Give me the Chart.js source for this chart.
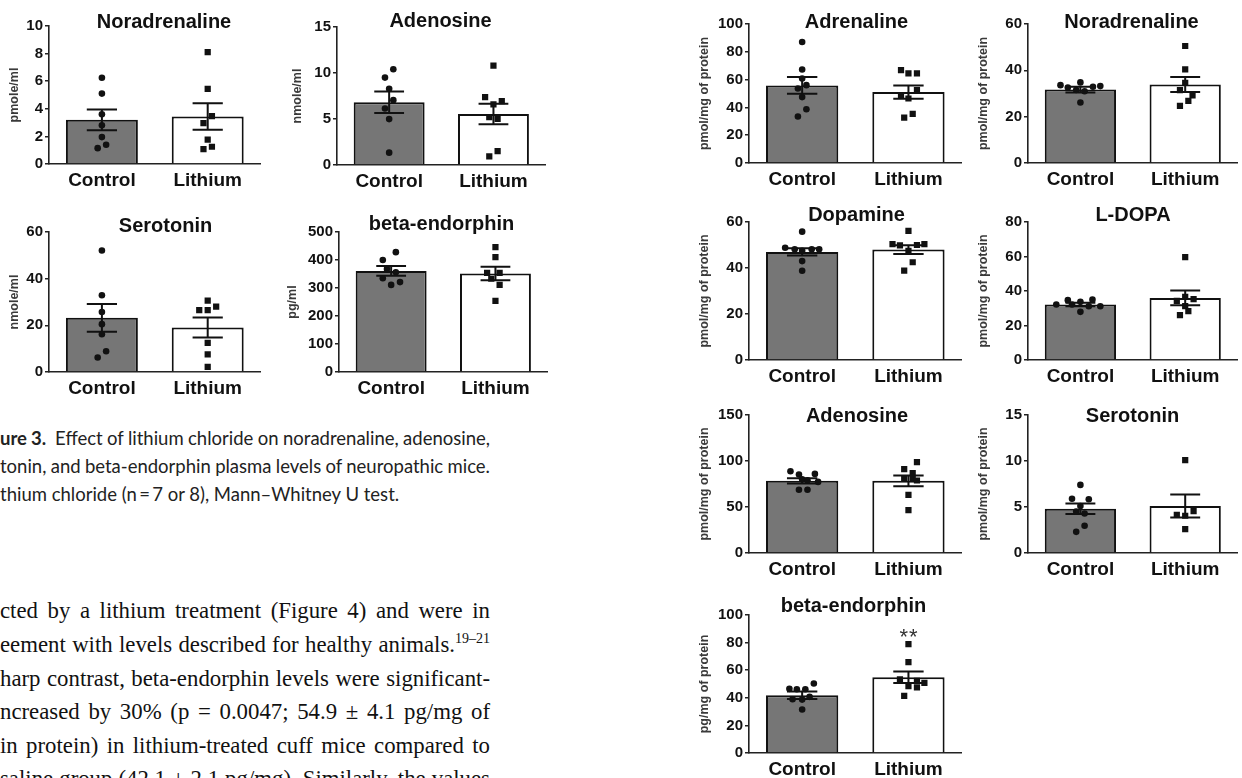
<!DOCTYPE html>
<html>
<head>
<meta charset="utf-8">
<script src="https://cdn.jsdelivr.net/npm/chart.js@4.4.1/dist/chart.umd.min.js"></script>
<style>
  body { margin: 0; width: 1242px; height: 778px; overflow: hidden; background: #fff; position: relative; }
  canvas { position: absolute; }
  .ttl { position: absolute; font: bold 20px "Liberation Sans", Arial, sans-serif; line-height: 20px; color: #111; white-space: nowrap; transform: translateX(-50%); }
  .cap { position: absolute; left: 0; font: 18.5px Lato, sans-serif; line-height: 22px; color: #222; white-space: nowrap; }
  .txt { position: absolute; left: 0; font: 22.8px "Liberation Serif", serif; line-height: 26px; color: #111; white-space: nowrap; }
  .txt sup { font-size: 14px; line-height: 0; }
</style>
</head>
<body>

<div class="cap fit" style="top:427px"><b>ure 3.</b>&nbsp; Effect of lithium chloride on noradrenaline, adenosine,</div>
<div class="cap fit" style="top:455px">tonin, and beta-endorphin plasma levels of neuropathic mice.</div>
<div class="cap" style="top:483px">thium chloride (n&thinsp;=&thinsp;7 or 8), Mann–Whitney U test.</div>

<div class="txt fit" style="top:598px">cted by a lithium treatment (Figure 4) and were in</div>
<div class="txt fit" style="top:632px">eement with levels described for healthy animals.<sup>19–21</sup></div>
<div class="txt fit" style="top:666px">harp contrast, beta-endorphin levels were significant-</div>
<div class="txt fit" style="top:699px">ncreased by 30% (p = 0.0047; 54.9 ± 4.1 pg/mg of</div>
<div class="txt fit" style="top:733px">in protein) in lithium-treated cuff mice compared to</div>
<div class="txt fit" style="top:766px">saline group (42.1 ± 2.1 pg/mg). Similarly, the values</div>

<script>
// categories
const groups = ['Control', 'Lithium'];

// points are [value, horizontal jitter in category units]

// Figure 3, plasma
const plasmaNoradMean = [3.2, 3.45];
const plasmaNoradSem = [0.75, 0.96];
const plasmaNoradCtrl = [[6.25, 0], [5.1, 0], [3.6, 0], [2.8, 0], [1.95, 0], [1.4, 0.04], [1.15, -0.04]];
const plasmaNoradLi = [[8.1, 0], [5.45, 0], [3.47, 0.04], [2.96, -0.04], [1.76, 0], [1.25, 0.04], [1.08, -0.04]];

const plasmaAdoMean = [6.83, 5.55];
const plasmaAdoSem = [1.17, 1.12];
const plasmaAdoCtrl = [[10.4, 0.04], [9.5, -0.04], [8.28, 0], [7.05, 0.04], [6.14, -0.04], [4.99, 0], [1.34, 0]];
const plasmaAdoLi = [[10.8, 0], [7.37, -0.08], [6.94, 0.08], [6.58, 0], [5.2, -0.04], [5.02, 0.04], [1.52, 0.04], [0.94, -0.04]];

const plasmaSeroMean = [23.2, 19.1];
const plasmaSeroSem = [5.95, 4.3];
const plasmaSeroCtrl = [[52.1, 0], [32.9, 0], [25.7, 0], [20.5, 0], [16.2, 0], [8.9, 0.04], [6.2, -0.04]];
const plasmaSeroLi = [[30.6, 0], [26.5, -0.08], [26.5, 0], [28.0, 0.08], [12.5, 0], [7.6, 0], [2.2, 0]];

const plasmaBetaMean = [361, 352];
const plasmaBetaSem = [17.5, 24];
const plasmaBetaCtrl = [[428, 0.045], [400, -0.08], [368, -0.04], [356, 0.045], [335, -0.08], [321, 0.085], [311, 0]];
const plasmaBetaLi = [[446, 0], [410, 0], [354, -0.08], [354, 0.04], [333, -0.04], [311, 0.04], [254, 0]];

// Figure 4, tissue
const tissueAdrMean = [55.8, 51];
const tissueAdrSem = [6, 4.7];
const tissueAdrCtrl = [[87, 0], [67.3, 0], [60.8, 0], [56, 0.04], [53.6, -0.04], [47.4, 0], [38.7, 0.04], [33.4, -0.04]];
const tissueAdrLi = [[66.8, -0.07], [64.4, 0], [64.4, 0.08], [52.4, 0.08], [48.8, -0.07], [46.4, 0], [35.3, 0.04], [32.7, -0.04]];

const tissueNoradMean = [31.7, 33.9];
const tissueNoradSem = [1.25, 3.25];
const tissueNoradCtrl = [[33.6, -0.19], [32.6, -0.12], [34.8, 0], [32.9, 0.12], [33.2, 0.19], [31.5, -0.04], [31.0, 0.04], [26.1, 0]];
const tissueNoradLi = [[50.5, 0], [40.4, 0], [34.6, 0], [31.5, -0.05], [29.2, 0.07], [26.8, 0.03], [24.7, -0.05]];

const tissueDopaMean = [47.0, 48.0];
const tissueDopaSem = [1.6, 1.9];
const tissueDopaCtrl = [[55.8, 0], [48.8, -0.16], [48.1, -0.07], [47.5, 0], [48.1, 0.09], [48.1, 0.16], [43.0, 0], [38.8, 0]];
const tissueDopaLi = [[56.1, 0], [50.4, -0.15], [49.8, -0.08], [50.0, 0.08], [50.4, 0.15], [47.4, 0], [42.5, 0.04], [38.9, -0.04]];

const tissueLdopaMean = [32.2, 36.0];
const tissueLdopaSem = [1.0, 4.3];
const tissueLdopaCtrl = [[34.7, -0.12], [35.0, 0.115], [33.7, 0], [32.2, -0.23], [32.2, -0.08], [31.2, 0.19], [31.2, 0.08], [27.9, 0]];
const tissueLdopaLi = [[59.7, 0], [36.6, 0], [35.3, 0.08], [34.3, -0.08], [31.2, 0], [28.3, 0.03], [26.0, -0.05]];

const tissueAdoMean = [78.4, 78.4];
const tissueAdoSem = [2.9, 5.8];
const tissueAdoCtrl = [[88.9, -0.11], [85.3, -0.03], [86.0, 0.12], [80.2, 0], [79.0, 0.05], [77.3, 0.15], [68.7, -0.03], [68.7, 0.05]];
const tissueAdoLi = [[98.7, 0.08], [91.1, -0.04], [86.7, 0.04], [81.3, -0.04], [81.3, 0.04], [78.8, 0.08], [63.2, 0], [46.6, 0]];

const tissueSeroMean = [4.81, 5.1];
const tissueSeroSem = [0.58, 1.25];
const tissueSeroCtrl = [[7.4, 0], [5.9, -0.08], [5.85, 0.08], [5.1, 0], [4.5, -0.04], [4.3, 0.04], [2.96, 0.04], [2.3, -0.04]];
const tissueSeroLi = [[10.1, 0], [4.55, 0.08], [4.15, -0.08], [4.05, 0], [2.6, 0]];

const tissueBetaMean = [41.9, 54.9];
const tissueBetaSem = [2.7, 4.1];
const tissueBetaCtrl = [[50.4, 0.11], [46.5, -0.12], [46.2, -0.05], [46.2, 0.03], [40.7, 0.07], [39.0, -0.09], [38.7, 0], [31.5, 0]];
const tissueBetaLi = [[78.9, 0], [65.9, 0], [53.3, -0.08], [52.3, 0.08], [50.8, 0.15], [48.4, 0], [47.5, 0.08], [41.4, -0.04]];

const panels = [
  { id: 'pNor', title: 'Noradrenaline', unit: 'pmole/ml', max: 10, step: 2, mean: plasmaNoradMean, sem: plasmaNoradSem, ctrl: plasmaNoradCtrl, li: plasmaNoradLi },
  { id: 'pAdo', title: 'Adenosine', unit: 'nmole/ml', max: 15, step: 5, mean: plasmaAdoMean, sem: plasmaAdoSem, ctrl: plasmaAdoCtrl, li: plasmaAdoLi },
  { id: 'pSer', title: 'Serotonin', unit: 'nmole/ml', max: 60, step: 20, mean: plasmaSeroMean, sem: plasmaSeroSem, ctrl: plasmaSeroCtrl, li: plasmaSeroLi },
  { id: 'pBeta', title: 'beta-endorphin', unit: 'pg/ml', max: 500, step: 100, mean: plasmaBetaMean, sem: plasmaBetaSem, ctrl: plasmaBetaCtrl, li: plasmaBetaLi },
  { id: 'tAdr', title: 'Adrenaline', unit: 'pmol/mg of protein', max: 100, step: 20, mean: tissueAdrMean, sem: tissueAdrSem, ctrl: tissueAdrCtrl, li: tissueAdrLi },
  { id: 'tNor', title: 'Noradrenaline', unit: 'pmol/mg of protein', max: 60, step: 20, mean: tissueNoradMean, sem: tissueNoradSem, ctrl: tissueNoradCtrl, li: tissueNoradLi },
  { id: 'tDopa', title: 'Dopamine', unit: 'pmol/mg of protein', max: 60, step: 20, mean: tissueDopaMean, sem: tissueDopaSem, ctrl: tissueDopaCtrl, li: tissueDopaLi },
  { id: 'tLdopa', title: 'L-DOPA', unit: 'pmol/mg of protein', max: 80, step: 20, mean: tissueLdopaMean, sem: tissueLdopaSem, ctrl: tissueLdopaCtrl, li: tissueLdopaLi },
  { id: 'tAdo', title: 'Adenosine', unit: 'pmol/mg of protein', max: 150, step: 50, mean: tissueAdoMean, sem: tissueAdoSem, ctrl: tissueAdoCtrl, li: tissueAdoLi },
  { id: 'tSer', title: 'Serotonin', unit: 'pmol/mg of protein', max: 15, step: 5, mean: tissueSeroMean, sem: tissueSeroSem, ctrl: tissueSeroCtrl, li: tissueSeroLi },
  { id: 'tBeta', title: 'beta-endorphin', unit: 'pg/mg of protein', max: 100, step: 20, mean: tissueBetaMean, sem: tissueBetaSem, ctrl: tissueBetaCtrl, li: tissueBetaLi, mark: '**' }
];

// plot area of each panel on the page (left, top, right, bottom), y-axis box width,
// and the title's centre x / baseline y
const boxes = {
  pNor:   { l: 49,   t: 26,  r: 261,  b: 164, yw: 42, tx: 164,    ty: 28 },
  pAdo:   { l: 337,  t: 27,  r: 546,  b: 165, yw: 47, tx: 440.5,  ty: 27 },
  pSer:   { l: 49,   t: 232, r: 261,  b: 372, yw: 42, tx: 165.5,  ty: 232 },
  pBeta:  { l: 339,  t: 232, r: 548,  b: 372, yw: 54, tx: 441.5,  ty: 230 },
  tAdr:   { l: 749,  t: 24,  r: 962,  b: 163, yw: 52, tx: 856.5,  ty: 28 },
  tNor:   { l: 1028, t: 24,  r: 1238, b: 163, yw: 52, tx: 1131.5, ty: 28 },
  tDopa:  { l: 749,  t: 222, r: 962,  b: 360, yw: 52, tx: 856.5,  ty: 221 },
  tLdopa: { l: 1028, t: 222, r: 1238, b: 360, yw: 52, tx: 1133,   ty: 221 },
  tAdo:   { l: 749,  t: 415, r: 962,  b: 553, yw: 52, tx: 857,    ty: 422 },
  tSer:   { l: 1028, t: 415, r: 1238, b: 553, yw: 52, tx: 1132.5, ty: 422 },
  tBeta:  { l: 749,  t: 615, r: 962,  b: 753, yw: 52, tx: 853.5,  ty: 612 }
};

const padTop = 12, padRight = 4, xAxisH = 30;

// mean ± SEM whiskers, drawn right after the bars
const errorBars = {
  id: 'errorBars',
  afterDatasetDraw(chart, args) {
    const ds = chart.data.datasets[args.index];
    if (!ds.sem) return;
    const ctx = chart.ctx;
    const y = chart.scales.y;
    ctx.save();
    ctx.strokeStyle = '#111';
    ctx.lineWidth = 2;
    args.meta.data.forEach((bar, i) => {
      const cap = bar.width * 0.21;
      const hi = y.getPixelForValue(ds.data[i] + ds.sem[i]);
      const lo = y.getPixelForValue(ds.data[i] - ds.sem[i]);
      ctx.beginPath();
      ctx.moveTo(bar.x, hi); ctx.lineTo(bar.x, lo);
      ctx.moveTo(bar.x - cap, hi); ctx.lineTo(bar.x + cap, hi);
      ctx.moveTo(bar.x - cap, lo); ctx.lineTo(bar.x + cap, lo);
      ctx.stroke();
    });
    ctx.restore();
  }
};

function toPoints(pts, idx) {
  return pts.map(([v, dx]) => ({ x: idx + dx, y: v }));
}

function drawPanel(p) {
  const b = boxes[p.id];
  const left = b.l - b.yw;
  const top = b.t - padTop;
  const w = b.r - left + padRight;
  const h = b.b - top + xAxisH;

  const canvas = document.createElement('canvas');
  canvas.width = w;
  canvas.height = h;
  canvas.style.left = left + 'px';
  canvas.style.top = top + 'px';
  document.body.appendChild(canvas);

  const title = document.createElement('div');
  title.className = 'ttl';
  title.textContent = p.title;
  title.style.left = b.tx + 'px';
  title.style.top = (b.ty - 17) + 'px';
  document.body.appendChild(title);

  new Chart(canvas.getContext('2d'), {
    type: 'bar',
    data: {
      labels: groups,
      datasets: [
        {
          type: 'bar',
          data: p.mean,
          sem: p.sem,
          grouped: false,
          backgroundColor: ['#767676', '#ffffff'],
          borderColor: '#111',
          borderWidth: 2,
          barPercentage: 0.68,
          categoryPercentage: 1,
          order: 3
        },
        {
          type: 'scatter',
          data: toPoints(p.ctrl, 0),
          xAxisID: 'xs',
          pointStyle: 'circle',
          radius: 3.3,
          backgroundColor: '#111',
          borderWidth: 0,
          order: 1
        },
        {
          type: 'scatter',
          data: toPoints(p.li, 1),
          xAxisID: 'xs',
          pointStyle: 'rect',
          radius: 4.4,
          backgroundColor: '#111',
          borderWidth: 0,
          order: 1
        }
      ]
    },
    options: {
      responsive: false,
      animation: false,
      events: [],
      layout: { padding: { top: padTop, right: padRight, left: 0, bottom: 0 } },
      plugins: { legend: { display: false }, tooltip: { enabled: false } },
      scales: {
        x: {
          grid: { display: false, drawTicks: false },
          border: { display: true, color: '#222', width: 1.6 },
          ticks: { color: '#111', padding: 5, font: { family: 'Liberation Sans', size: 19, weight: 'bold' } },
          afterFit(s) { s.height = xAxisH; }
        },
        xs: { type: 'linear', display: false, offset: false, grid: { offset: false }, min: -0.5, max: 1.5 },
        y: {
          min: 0,
          max: p.max,
          ticks: { stepSize: p.step, color: '#111', padding: 2, font: { family: 'Liberation Sans', size: 15, weight: 'bold' } },
          grid: { drawOnChartArea: false, drawTicks: true, tickLength: 4, color: '#222', lineWidth: 1.5 },
          border: { display: true, color: '#222', width: 1.6 },
          title: {
            display: true,
            text: p.unit,
            color: '#3a3a3a',
            padding: { top: 0, bottom: 0 },
            font: { family: 'Liberation Sans', size: 12.5, weight: 'bold' }
          },
          afterFit(s) { s.width = b.yw; }
        }
      }
    },
    plugins: [errorBars]
  });

  if (p.mark) {
    const m = document.createElement('div');
    m.className = 'ttl';
    m.style.font = '22px "Liberation Sans", Arial, sans-serif';
    m.style.letterSpacing = '1px';
    m.style.color = '#333';
    m.textContent = p.mark;
    m.style.left = '909px';
    m.style.top = '624px';
    document.body.appendChild(m);
  }
}

panels.forEach(drawPanel);

// justify the cropped text lines to the column's right edge
document.querySelectorAll('.fit').forEach(el => {
  const gaps = (el.textContent.match(/[ \u00a0]/g) || []).length;
  const natural = el.getBoundingClientRect().width;
  el.style.wordSpacing = ((490 - natural) / gaps) + 'px';
});
</script>
</body>
</html>
